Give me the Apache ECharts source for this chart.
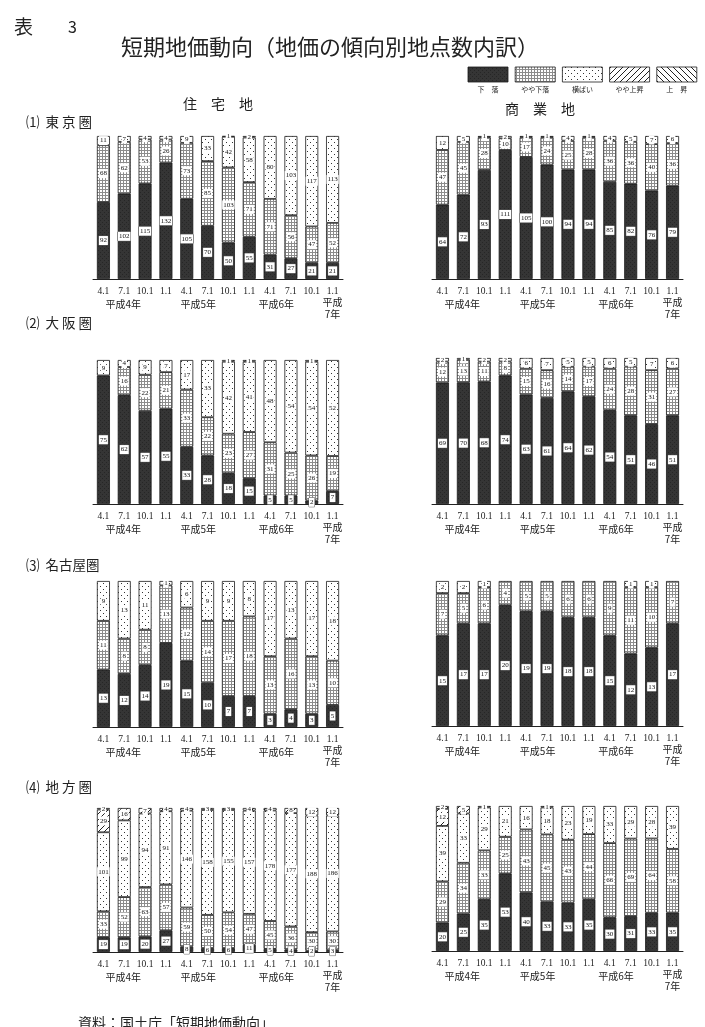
<!DOCTYPE html>
<html><head><meta charset="utf-8">
<script src="https://cdn.jsdelivr.net/npm/echarts@6/dist/echarts.min.js"></script>
<style>html,body{margin:0;padding:0;background:#fff;}#c{width:705px;height:1027px;}</style>
</head><body><div id="c"></div>
<script>
// ---- categories / labels ----
const periods = ['H4-4.1','H4-7.1','H4-10.1','H5-1.1','H5-4.1','H5-7.1','H5-10.1','H6-1.1','H6-4.1','H6-7.1','H6-10.1','H7-1.1'];
const trendNames = ['下　落','やや下落','横ばい','やや上昇','上　昇'];
const yearLabels = ['平成4年','平成5年','平成6年','平成\n7年'];
const regionLabels = ['⑴  東 京 圏','⑵  大 阪 圏','⑶  名古屋圏','⑷  地 方 圏'];

// ---- data (number of sample points) ----
// 東京圏 住宅地
const TOKYO_RES_FALL   = [92,102,115,132,105,70,50,55,31,27,21,21];
const TOKYO_RES_SFALL  = [68,62,53,26,73,85,103,71,71,56,47,52];
const TOKYO_RES_FLAT   = [11,7,4,4,9,33,42,58,80,103,117,113];
const TOKYO_RES_SRISE  = [0,0,0,0,0,0,1,2,0,0,0,0];
const TOKYO_RES_RISE   = [0,0,0,0,0,0,0,0,0,0,0,0];
// 東京圏 商業地
const TOKYO_COM_FALL   = [64,72,93,111,105,100,94,94,85,82,76,79];
const TOKYO_COM_SFALL  = [47,45,28,10,17,24,25,28,36,36,40,36];
const TOKYO_COM_FLAT   = [12,5,1,2,1,1,4,1,4,5,7,6];
const TOKYO_COM_SRISE  = [0,0,0,0,0,0,0,0,0,0,0,0];
const TOKYO_COM_RISE   = [0,0,0,0,0,0,0,0,0,0,0,0];
// 大阪圏 住宅地
const OSAKA_RES_FALL   = [75,62,57,55,33,28,18,15,5,5,2,7];
const OSAKA_RES_SFALL  = [0,16,22,21,33,22,23,27,31,25,26,19];
const OSAKA_RES_FLAT   = [9,4,9,7,17,33,42,41,48,54,54,52];
const OSAKA_RES_SRISE  = [0,0,0,0,0,0,1,1,0,0,1,0];
const OSAKA_RES_RISE   = [0,0,0,0,0,0,0,0,0,0,0,0];
// 大阪圏 商業地
const OSAKA_COM_FALL   = [69,70,68,74,63,61,64,62,54,51,46,51];
const OSAKA_COM_SFALL  = [12,13,11,8,15,16,14,17,24,28,31,27];
const OSAKA_COM_FLAT   = [2,1,2,2,6,7,5,5,6,5,7,6];
const OSAKA_COM_SRISE  = [0,0,0,0,0,0,0,0,0,0,0,0];
const OSAKA_COM_RISE   = [0,0,0,0,0,0,0,0,0,0,0,0];
// 名古屋圏 住宅地
const NAGOYA_RES_FALL  = [13,12,14,19,15,10,7,7,3,4,3,5];
const NAGOYA_RES_SFALL = [11,8,8,13,12,14,17,18,13,16,13,10];
const NAGOYA_RES_FLAT  = [9,13,11,1,6,9,9,8,17,13,17,18];
const NAGOYA_RES_SRISE = [0,0,0,0,0,0,0,0,0,0,0,0];
const NAGOYA_RES_RISE  = [0,0,0,0,0,0,0,0,0,0,0,0];
// 名古屋圏 商業地
const NAGOYA_COM_FALL  = [15,17,17,20,19,19,18,18,15,12,13,17];
const NAGOYA_COM_SFALL = [7,5,6,4,5,5,6,6,9,11,10,7];
const NAGOYA_COM_FLAT  = [2,2,1,0,0,0,0,0,0,1,1,0];
const NAGOYA_COM_SRISE = [0,0,0,0,0,0,0,0,0,0,0,0];
const NAGOYA_COM_RISE  = [0,0,0,0,0,0,0,0,0,0,0,0];
// 地方圏 住宅地
const LOCAL_RES_FALL   = [19,19,20,27,8,6,6,11,5,4,2,3];
const LOCAL_RES_SFALL  = [33,52,63,57,59,50,54,47,45,36,30,30];
const LOCAL_RES_FLAT   = [101,99,94,91,146,158,155,157,178,177,188,186];
const LOCAL_RES_SRISE  = [29,16,7,4,4,3,3,4,4,8,12,12];
const LOCAL_RES_RISE   = [2,0,0,0,0,0,0,0,0,0,0,0];
// 地方圏 商業地
const LOCAL_COM_FALL   = [20,25,35,53,40,33,33,35,30,31,33,35];
const LOCAL_COM_SFALL  = [29,34,33,25,43,45,43,44,66,69,64,58];
const LOCAL_COM_FLAT   = [39,33,29,21,16,18,23,19,33,29,28,39];
const LOCAL_COM_SRISE  = [12,5,1,0,0,1,0,0,0,0,0,0];
const LOCAL_COM_RISE   = [2,0,0,0,0,0,0,0,0,0,0,0];

const panels = [
  [TOKYO_RES_FALL,TOKYO_RES_SFALL,TOKYO_RES_FLAT,TOKYO_RES_SRISE,TOKYO_RES_RISE],
  [TOKYO_COM_FALL,TOKYO_COM_SFALL,TOKYO_COM_FLAT,TOKYO_COM_SRISE,TOKYO_COM_RISE],
  [OSAKA_RES_FALL,OSAKA_RES_SFALL,OSAKA_RES_FLAT,OSAKA_RES_SRISE,OSAKA_RES_RISE],
  [OSAKA_COM_FALL,OSAKA_COM_SFALL,OSAKA_COM_FLAT,OSAKA_COM_SRISE,OSAKA_COM_RISE],
  [NAGOYA_RES_FALL,NAGOYA_RES_SFALL,NAGOYA_RES_FLAT,NAGOYA_RES_SRISE,NAGOYA_RES_RISE],
  [NAGOYA_COM_FALL,NAGOYA_COM_SFALL,NAGOYA_COM_FLAT,NAGOYA_COM_SRISE,NAGOYA_COM_RISE],
  [LOCAL_RES_FALL,LOCAL_RES_SFALL,LOCAL_RES_FLAT,LOCAL_RES_SRISE,LOCAL_RES_RISE],
  [LOCAL_COM_FALL,LOCAL_COM_SFALL,LOCAL_COM_FLAT,LOCAL_COM_SRISE,LOCAL_COM_RISE]
];

// ---- layout ----
const gridDefs = [
  {left:93, width:250, top:136, height:143}, {left:432, width:251, top:136, height:143},
  {left:93, width:250, top:360, height:144}, {left:432, width:251, top:358, height:146},
  {left:93, width:250, top:581, height:146}, {left:432, width:251, top:581, height:145},
  {left:93, width:250, top:808, height:144}, {left:432, width:251, top:806, height:145}
];
const yearIdx = [0.95, 4.55, 8.3, 11];
const regionY = [122, 323, 565, 787];

// ---- patterns ----
function pat(w,h,draw,bg){
  const c=document.createElement('canvas'); c.width=w; c.height=h;
  const g=c.getContext('2d'); g.fillStyle=bg||'#fff'; g.fillRect(0,0,w,h); draw(g);
  return {image:c, repeat:'repeat'};
}
const P_FALL = pat(4,4,g=>{g.fillStyle='#262626';g.fillRect(0,0,1,1);g.fillRect(2,2,1,1);},'#353535');
const P_SFALL = pat(3,3,g=>{g.fillStyle='#8c8c8c';g.fillRect(0,0,3,1);g.fillRect(0,0,1,3);});
const P_FLAT = pat(6,6,g=>{g.fillStyle='#333';g.fillRect(1,1,1,1);g.fillRect(4,4,1,1);});
const P_SRISE = pat(6,6,g=>{g.strokeStyle='#222';g.lineWidth=1;g.beginPath();g.moveTo(-1,7);g.lineTo(7,-1);g.moveTo(-1,1);g.lineTo(1,-1);g.moveTo(5,7);g.lineTo(7,5);g.stroke();});
const P_RISE = pat(6,6,g=>{g.strokeStyle='#222';g.lineWidth=1;g.beginPath();g.moveTo(-1,-1);g.lineTo(7,7);g.moveTo(5,-1);g.lineTo(7,1);g.moveTo(-1,5);g.lineTo(1,7);g.stroke();});
const patterns = [P_FALL,P_SFALL,P_FLAT,P_SRISE,P_RISE];

const serif = '"Liberation Serif","DejaVu Serif",serif';
const jp = '"Noto Sans CJK JP",sans-serif';

const grids=[], xAxes=[], yAxes=[], series=[];
panels.forEach((rows,p)=>{
  grids.push(Object.assign({containLabel:false}, gridDefs[p]));
  xAxes.push({type:'category', gridIndex:p, data:periods,
    axisLine:{lineStyle:{color:'#222',width:1}}, axisTick:{show:false},
    axisLabel:{interval:0, margin:7, fontSize:9.5, color:'#222', fontFamily:serif,
      formatter:v=>v.split('-')[1]}});
  yAxes.push({type:'value', gridIndex:p, min:0, max:100, show:false});
  const totals = periods.map((_,i)=>rows.reduce((s,r)=>s+r[i],0));
  rows.forEach((r,k)=>{
    series.push({type:'bar', name:trendNames[k], xAxisIndex:p, yAxisIndex:p, stack:'s'+p,
      barWidth:13, animation:false,
      itemStyle:{color:patterns[k], borderColor:'#1a1a1a', borderWidth:0.8},
      label:{show:true, position:'inside', formatter:pr=>pr.data.raw, fontSize:7,
        fontFamily:serif, color:'#111', backgroundColor:'#fff', padding:[1,1,0,1],
        lineHeight:8, borderColor:k===0?'#555':'transparent', borderWidth:k===0?0.5:0},
      data:r.map((v,i)=>v>0?{value:v/totals[i]*100, raw:v}:'-')
    });
  });
});

// ---- graphic texts ----
function txt(text,x,y,size,opts){
  return Object.assign({type:'text', x:x, y:y, silent:true,
    style:Object.assign({text:text, fontSize:size, fontFamily:jp, fill:'#222',
      align:'left', verticalAlign:'middle', textAlign:'left', textVerticalAlign:'middle'}, opts||{})});
}
const graphics = [];
graphics.push(txt('表',14,27,19));
graphics.push(txt('3',68,27,16));
graphics.push(txt('短期地価動向（地価の傾向別地点数内訳）',121,47,22));
graphics.push(txt('住　宅　地',183,104,14));
graphics.push(txt('商　業　地',505,109,14));
regionLabels.forEach((t,i)=>graphics.push(txt(t,26,regionY[i],13.5)));
// legend
patterns.forEach((pt,k)=>{
  const x0 = 468 + k*47.2;
  graphics.push({type:'rect', shape:{x:x0,y:67,width:40,height:15}, silent:true,
    style:{fill:pt, stroke:'#1a1a1a', lineWidth:0.8}});
  graphics.push(txt(trendNames[k], x0+20, 89, 7, {align:'center', textAlign:'center'}));
});
// year labels under each axis
gridDefs.forEach(g=>{
  const bottom = g.top + g.height;
  const step = g.width/12;
  yearIdx.forEach((idx,j)=>{
    const x = g.left + (idx+0.5)*step;
    const isLast = j===3;
    graphics.push(txt(yearLabels[j], x, isLast? bottom+29 : bottom+25, 10,
      {align:'center', textAlign:'center', lineHeight:12, fontFamily:jp}));
  });
});
graphics.push(txt('資料：国土庁「短期地価動向」',78,1023,14));

const chart = echarts.init(document.getElementById('c'), null, {renderer:'canvas'});
chart.setOption({
  backgroundColor:'#fff', animation:false,
  grid:grids, xAxis:xAxes, yAxis:yAxes, series:series, graphic:graphics
});
</script></body></html>
